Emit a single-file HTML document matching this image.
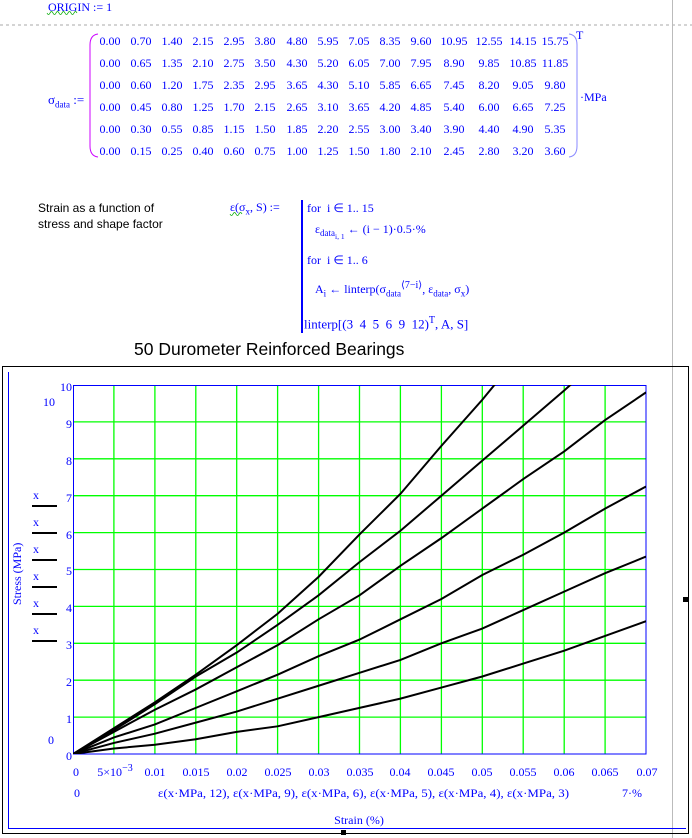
<!DOCTYPE html>
<html><head><meta charset="utf-8"><style>
body{margin:0;width:692px;height:838px;background:#fff;position:relative;overflow:hidden;font-family:"Liberation Serif",serif;color:#00f}
.a{position:absolute;white-space:nowrap}
.s{font-family:"Liberation Sans",sans-serif;color:#000}
.m{font-size:12px;color:#00f}
</style></head><body>
<svg class="a" style="left:0;top:0" width="692" height="838">
<line x1="0" y1="25" x2="692" y2="25" stroke="#aaa" stroke-dasharray="3,3"/>
<line x1="672.5" y1="0" x2="672.5" y2="838" stroke="#bbb"/>
<path d="M47 13 q1.5 3 3 0 t3 0 t3 0 t3 0 t3 0 t3 0 t3 0 t3 0 t3 0 t3 0" stroke="#0a0" fill="none" stroke-width="0.8"/>
<path d="M230 214 q1.5 3 3 0 t3 0 t3 0 t3 0" stroke="#0a0" fill="none" stroke-width="0.8"/>
<path d="M98 34 Q90 35 90 45 L90 146 Q90 156 98 157" stroke="#c0f" fill="none"/>
<path d="M569 34 Q577 35 577 45 L577 146 Q577 156 569 157" stroke="#88f" fill="none"/>
<line x1="302" y1="200" x2="302" y2="333" stroke="#00f" stroke-width="2"/>
<rect x="2.5" y="366.5" width="686" height="467" fill="none" stroke="#000"/>
<line x1="8.5" y1="372" x2="8.5" y2="829" stroke="#00f"/>
<line x1="8" y1="828.5" x2="686" y2="828.5" stroke="#00f"/>
<rect x="683" y="597" width="5" height="5" fill="#000"/>
<rect x="341" y="830" width="5" height="5" fill="#000"/>
<defs><clipPath id="c"><rect x="73" y="385" width="573" height="369"/></clipPath></defs>
<g stroke="#0f0" stroke-width="1.3">
<line x1="113.9" y1="385" x2="113.9" y2="754"/><line x1="154.9" y1="385" x2="154.9" y2="754"/><line x1="195.8" y1="385" x2="195.8" y2="754"/><line x1="236.7" y1="385" x2="236.7" y2="754"/><line x1="277.6" y1="385" x2="277.6" y2="754"/><line x1="318.6" y1="385" x2="318.6" y2="754"/><line x1="359.5" y1="385" x2="359.5" y2="754"/><line x1="400.4" y1="385" x2="400.4" y2="754"/><line x1="441.4" y1="385" x2="441.4" y2="754"/><line x1="482.3" y1="385" x2="482.3" y2="754"/><line x1="523.2" y1="385" x2="523.2" y2="754"/><line x1="564.2" y1="385" x2="564.2" y2="754"/><line x1="605.1" y1="385" x2="605.1" y2="754"/>
<line x1="73" y1="717.1" x2="646" y2="717.1"/><line x1="73" y1="680.2" x2="646" y2="680.2"/><line x1="73" y1="643.3" x2="646" y2="643.3"/><line x1="73" y1="606.4" x2="646" y2="606.4"/><line x1="73" y1="569.5" x2="646" y2="569.5"/><line x1="73" y1="532.6" x2="646" y2="532.6"/><line x1="73" y1="495.7" x2="646" y2="495.7"/><line x1="73" y1="458.8" x2="646" y2="458.8"/><line x1="73" y1="421.9" x2="646" y2="421.9"/>
</g>
<rect x="73.5" y="385.5" width="572.5" height="368.5" fill="none" stroke="#00f"/>
<g clip-path="url(#c)"><g transform="translate(73,754) scale(40.93,-36.9)" fill="none" stroke="#000" stroke-width="2">
<polyline vector-effect="non-scaling-stroke" points="0,0 1,.7 2,1.4 3,2.15 4,2.95 5,3.8 6,4.8 7,5.95 8,7.05 9,8.35 10,9.6 11,10.95 12,12.55 13,14.15 14,15.75"/>
<polyline vector-effect="non-scaling-stroke" points="0,0 1,.65 2,1.35 3,2.1 4,2.75 5,3.5 6,4.3 7,5.2 8,6.05 9,7 10,7.95 11,8.9 12,9.85 13,10.85 14,11.85"/>
<polyline vector-effect="non-scaling-stroke" points="0,0 1,.6 2,1.2 3,1.75 4,2.35 5,2.95 6,3.65 7,4.3 8,5.1 9,5.85 10,6.65 11,7.45 12,8.2 13,9.05 14,9.8"/>
<polyline vector-effect="non-scaling-stroke" points="0,0 1,.45 2,.8 3,1.25 4,1.7 5,2.15 6,2.65 7,3.1 8,3.65 9,4.2 10,4.85 11,5.4 12,6 13,6.65 14,7.25"/>
<polyline vector-effect="non-scaling-stroke" points="0,0 1,.3 2,.55 3,.85 4,1.15 5,1.5 6,1.85 7,2.2 8,2.55 9,3 10,3.4 11,3.9 12,4.4 13,4.9 14,5.35"/>
<polyline vector-effect="non-scaling-stroke" points="0,0 1,.15 2,.25 3,.4 4,.6 5,.75 6,1 7,1.25 8,1.5 9,1.8 10,2.1 11,2.45 12,2.8 13,3.2 14,3.6"/>
</g></g>
<g stroke="#000" stroke-width="2"><line x1="32" y1="506" x2="57" y2="506"/><line x1="32" y1="533" x2="57" y2="533"/><line x1="32" y1="560" x2="57" y2="560"/><line x1="32" y1="587" x2="57" y2="587"/><line x1="32" y1="614" x2="57" y2="614"/><line x1="32" y1="641" x2="57" y2="641"/></g>
<g fill="#00f" font-family="Liberation Serif,serif" font-size="12" text-anchor="end">
<text x="72" y="391">10</text><text x="72" y="428">9</text><text x="72" y="465">8</text><text x="72" y="502">7</text><text x="72" y="539">6</text><text x="72" y="575">5</text><text x="72" y="612">4</text><text x="72" y="649">3</text><text x="72" y="686">2</text><text x="72" y="723">1</text><text x="72" y="760">0</text>
<text x="55" y="406">10</text><text x="54" y="744">0</text>
</g>
<g fill="#00f" font-family="Liberation Serif,serif" font-size="12">
<text x="33" y="499">x</text><text x="33" y="526">x</text><text x="33" y="553">x</text><text x="33" y="580">x</text><text x="33" y="607">x</text><text x="33" y="634">x</text>
<text transform="translate(21,605) rotate(-90)">Stress (MPa)</text>
<text x="158" y="797" textLength="411" lengthAdjust="spacingAndGlyphs">ε(x·MPa, 12), ε(x·MPa, 9), ε(x·MPa, 6), ε(x·MPa, 5), ε(x·MPa, 4), ε(x·MPa, 3)</text>
</g>
<g fill="#00f" font-family="Liberation Serif,serif" font-size="12" text-anchor="middle">
<text x="76" y="776">0</text><text x="115" y="776">5×10<tspan dy="-5" font-size="10">−3</tspan></text><text x="155" y="776">0.01</text><text x="196" y="776">0.015</text><text x="237" y="776">0.02</text><text x="278" y="776">0.025</text><text x="319" y="776">0.03</text><text x="360" y="776">0.035</text><text x="400" y="776">0.04</text><text x="441" y="776">0.045</text><text x="482" y="776">0.05</text><text x="523" y="776">0.055</text><text x="564" y="776">0.06</text><text x="605" y="776">0.065</text><text x="647" y="776">0.07</text>
<text x="77" y="797">0</text><text x="632" y="797">7·%</text>
<text x="359" y="824">Strain (%)</text>
</g>
</svg>
<div class="a m" style="left:48px;top:0px;font-size:12px">ORIGIN := 1</div>
<div class="a m" style="left:48px;top:92px;font-size:13px">σ<sub style="font-size:9px">data</sub> :=</div>
<div class="a m" style="left:576px;top:28px">T</div>
<div class="a m" style="left:580px;top:90px">·MPa</div>
<svg class="a" style="left:0;top:0" width="692" height="170">
<g fill="#00f" font-family="Liberation Serif,serif" font-size="12" text-anchor="middle">
<text y="45"><tspan x="110">0.00</tspan><tspan x="141">0.70</tspan><tspan x="172">1.40</tspan><tspan x="203">2.15</tspan><tspan x="234">2.95</tspan><tspan x="265">3.80</tspan><tspan x="297">4.80</tspan><tspan x="328">5.95</tspan><tspan x="359">7.05</tspan><tspan x="390">8.35</tspan><tspan x="421">9.60</tspan><tspan x="454">10.95</tspan><tspan x="489">12.55</tspan><tspan x="523">14.15</tspan><tspan x="555">15.75</tspan></text>
<text y="67"><tspan x="110">0.00</tspan><tspan x="141">0.65</tspan><tspan x="172">1.35</tspan><tspan x="203">2.10</tspan><tspan x="234">2.75</tspan><tspan x="265">3.50</tspan><tspan x="297">4.30</tspan><tspan x="328">5.20</tspan><tspan x="359">6.05</tspan><tspan x="390">7.00</tspan><tspan x="421">7.95</tspan><tspan x="454">8.90</tspan><tspan x="489">9.85</tspan><tspan x="523">10.85</tspan><tspan x="555">11.85</tspan></text>
<text y="89"><tspan x="110">0.00</tspan><tspan x="141">0.60</tspan><tspan x="172">1.20</tspan><tspan x="203">1.75</tspan><tspan x="234">2.35</tspan><tspan x="265">2.95</tspan><tspan x="297">3.65</tspan><tspan x="328">4.30</tspan><tspan x="359">5.10</tspan><tspan x="390">5.85</tspan><tspan x="421">6.65</tspan><tspan x="454">7.45</tspan><tspan x="489">8.20</tspan><tspan x="523">9.05</tspan><tspan x="555">9.80</tspan></text>
<text y="111"><tspan x="110">0.00</tspan><tspan x="141">0.45</tspan><tspan x="172">0.80</tspan><tspan x="203">1.25</tspan><tspan x="234">1.70</tspan><tspan x="265">2.15</tspan><tspan x="297">2.65</tspan><tspan x="328">3.10</tspan><tspan x="359">3.65</tspan><tspan x="390">4.20</tspan><tspan x="421">4.85</tspan><tspan x="454">5.40</tspan><tspan x="489">6.00</tspan><tspan x="523">6.65</tspan><tspan x="555">7.25</tspan></text>
<text y="133"><tspan x="110">0.00</tspan><tspan x="141">0.30</tspan><tspan x="172">0.55</tspan><tspan x="203">0.85</tspan><tspan x="234">1.15</tspan><tspan x="265">1.50</tspan><tspan x="297">1.85</tspan><tspan x="328">2.20</tspan><tspan x="359">2.55</tspan><tspan x="390">3.00</tspan><tspan x="421">3.40</tspan><tspan x="454">3.90</tspan><tspan x="489">4.40</tspan><tspan x="523">4.90</tspan><tspan x="555">5.35</tspan></text>
<text y="155"><tspan x="110">0.00</tspan><tspan x="141">0.15</tspan><tspan x="172">0.25</tspan><tspan x="203">0.40</tspan><tspan x="234">0.60</tspan><tspan x="265">0.75</tspan><tspan x="297">1.00</tspan><tspan x="328">1.25</tspan><tspan x="359">1.50</tspan><tspan x="390">1.80</tspan><tspan x="421">2.10</tspan><tspan x="454">2.45</tspan><tspan x="489">2.80</tspan><tspan x="523">3.20</tspan><tspan x="555">3.60</tspan></text>
</g></svg>
<div class="a s" style="left:38px;top:200px;font-size:12px;line-height:16px">Strain as a function of<br>stress and shape factor</div>
<div class="a m" style="left:230px;top:200px">ε(σ<sub style="font-size:9px">x</sub>, S) :=</div>
<div class="a m" style="left:307px;top:201px">for &nbsp;i ∈ 1.. 15</div>
<div class="a m" style="left:315px;top:222px">ε<sub style="font-size:9px">data<sub>i, 1</sub></sub> ← (i − 1)·0.5·%</div>
<div class="a m" style="left:307px;top:253px">for &nbsp;i ∈ 1.. 6</div>
<div class="a m" style="left:315px;top:280px">A<sub style="font-size:9px">i</sub> ← linterp(σ<sub style="font-size:9px">data</sub><sup style="font-size:10px">⟨7−i⟩</sup>, ε<sub style="font-size:9px">data</sub>, σ<sub style="font-size:9px">x</sub>)</div>
<div class="a m" style="left:304px;top:315px;font-size:13px">linterp[(3 &nbsp;4 &nbsp;5 &nbsp;6 &nbsp;9 &nbsp;12)<sup style="font-size:10px">T</sup>, A, S]</div>
<div class="a s" style="left:134px;top:339px;font-size:17.5px">50 Durometer Reinforced Bearings</div>
</body></html>
